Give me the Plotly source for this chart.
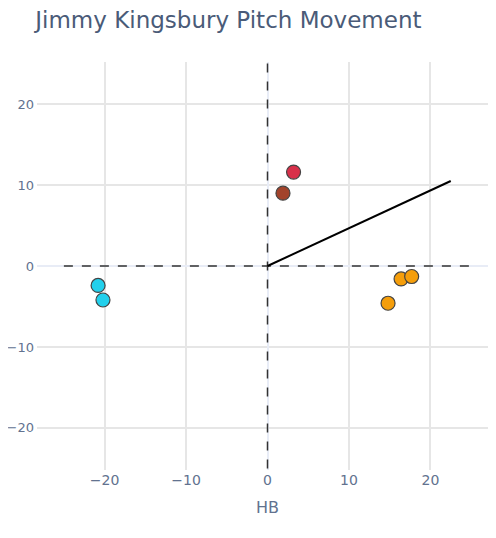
import plotly.graph_objects as go

# pitch movement (inches): horizontal break, induced vertical break
pitch_types = ["Sinker", "Four-Seam", "Slider", "Changeup"]
pitch_colors = ["#A2432B", "#D8304A", "#F59E0B", "#22D0EC"]
hb = [[1.9], [3.2], [14.8, 16.4, 17.7], [-20.8, -20.2]]
ivb = [[9.0], [11.6], [-4.6, -1.6, -1.3], [-2.4, -4.2]]

# arm angle line
arm_x = [0, 22.5]
arm_y = [0, 10.5]

axis_range_x = [-28.3, 28.3]
axis_range_y = [-25.2, 25.2]

fig = go.Figure()

fig.add_trace(go.Scatter(x=[-25, 25], y=[0, 0], mode="lines",
                         line=dict(color="#333", width=1.5, dash="dash"),
                         hoverinfo="skip", showlegend=False))
fig.add_trace(go.Scatter(x=[0, 0], y=[-25, 25], mode="lines",
                         line=dict(color="#333", width=1.5, dash="dash"),
                         hoverinfo="skip", showlegend=False))
fig.add_trace(go.Scatter(x=arm_x, y=arm_y, mode="lines",
                         line=dict(color="black", width=2),
                         showlegend=False))

for name, col, xs, ys in zip(pitch_types, pitch_colors, hb, ivb):
    fig.add_trace(go.Scatter(
        x=xs, y=ys, mode="markers", name=name,
        marker=dict(color=col, size=14, line=dict(color="#444", width=1.2)),
    ))

fig.update_layout(
    template="plotly_white",
    width=496, height=538,
    margin=dict(l=29, r=6, t=54, b=76),
    showlegend=False,
    font=dict(family="DejaVu Sans, sans-serif", color="#62728f"),
    title=dict(text="Jimmy Kingsbury Pitch Movement", x=0.055, xanchor="left",
               y=0.978, yanchor="middle",
               font=dict(family="DejaVu Sans", size=23, color="#4a5b78")),
)
fig.update_xaxes(range=axis_range_x, tickvals=[-20, -10, 0, 10, 20],
                 title=dict(text="HB", font=dict(size=16), standoff=14),
                 tickfont=dict(size=14), gridcolor="#E6E6E6", gridwidth=1.5,
                 zeroline=True, zerolinecolor="#E8ECF6", automargin=False)
fig.update_yaxes(range=axis_range_y, tickvals=[-20, -10, 0, 10, 20],
                 tickfont=dict(size=13), gridcolor="#E6E6E6", gridwidth=1.5,
                 ticklabelstandoff=2,
                 zeroline=True, zerolinecolor="#E8ECF6", automargin=False)

fig.write_html("out.html")
